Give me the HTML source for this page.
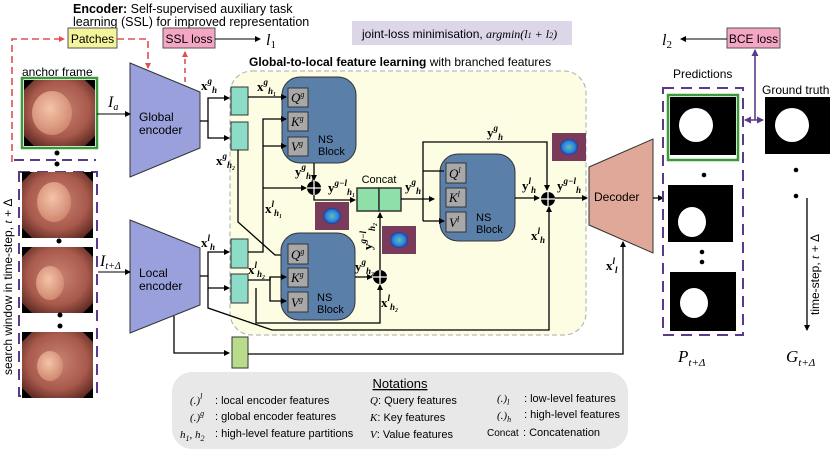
<!DOCTYPE html>
<html><head><meta charset="utf-8"><style>
body{margin:0;background:#fff;}
svg{display:block;font-family:"Liberation Sans",sans-serif;}
.m{font-family:"Liberation Serif",serif;font-style:italic;}
.b{font-family:"Liberation Serif",serif;font-weight:bold;}
</style></head><body>
<svg width="830" height="451" viewBox="0 0 830 451" xmlns="http://www.w3.org/2000/svg">
<defs>
<marker id="a" markerWidth="6" markerHeight="6" refX="5" refY="3" orient="auto" markerUnits="userSpaceOnUse"><path d="M0,0L6,3L0,6z" fill="#000"/></marker>
<marker id="ar" markerWidth="6" markerHeight="6" refX="5" refY="3" orient="auto" markerUnits="userSpaceOnUse"><path d="M0,0L6,3L0,6z" fill="#e05050"/></marker>
<marker id="ap" markerWidth="7" markerHeight="7" refX="6" refY="3.5" orient="auto" markerUnits="userSpaceOnUse"><path d="M0,0L7,3.5L0,7z" fill="#5a3a8a"/></marker>
<marker id="aps" markerWidth="7" markerHeight="7" refX="1" refY="3.5" orient="auto" markerUnits="userSpaceOnUse"><path d="M7,0L0,3.5L7,7z" fill="#5a3a8a"/></marker>
<radialGradient id="endo" cx="50%" cy="45%" r="70%"><stop offset="0" stop-color="#c98474"/><stop offset="0.6" stop-color="#a85a4c"/><stop offset="1" stop-color="#4a1e18"/></radialGradient>
<radialGradient id="pol" cx="45%" cy="40%" r="60%"><stop offset="0" stop-color="#f4c4a8"/><stop offset="1" stop-color="#d08870"/></radialGradient>
<radialGradient id="heat" cx="50%" cy="50%" r="50%"><stop offset="0" stop-color="#60c0b0"/><stop offset="0.7" stop-color="#2a80e0"/><stop offset="1" stop-color="#1a3a9a"/></radialGradient>
<g id="endoimg"><rect width="71" height="66" fill="url(#endo)"/><path d="M0,0h10L0,10zM71,0h-10L71,10zM0,66h10L0,56zM71,66h-10L71,56z" fill="#000"/></g>
<g id="hm"><rect width="34" height="28" fill="#7a3a5a"/><ellipse cx="17" cy="14" rx="9" ry="8" fill="url(#heat)"/></g>
</defs>

<text x="73" y="13" font-size="12.5"><tspan font-weight="bold">Encoder:</tspan> Self-supervised auxiliary task</text>
<text x="73" y="26" font-size="12.5">learning (SSL) for improved representation</text>
<rect x="68" y="28" width="49" height="20" fill="#f4f49a" stroke="#555"/>
<text x="92.5" y="43" font-size="12" text-anchor="middle">Patches</text>
<rect x="163" y="28" width="52" height="20" fill="#f4a6c4" stroke="#555"/>
<text x="189" y="43" font-size="12" text-anchor="middle">SSL loss</text>
<line x1="215" y1="39" x2="260" y2="39" stroke="#000" marker-end="url(#a)"/>
<text x="266" y="45" class="m" font-size="16">l<tspan font-size="11" dy="3" font-style="normal">1</tspan></text>
<rect x="352" y="21" width="220" height="24" fill="#dcd6e8"/>
<text x="362" y="38" font-size="12">joint-loss minimisation, <tspan class="m">argmin</tspan><tspan class="m">(l</tspan><tspan class="m" font-size="8">1</tspan><tspan class="m"> + l</tspan><tspan class="m" font-size="8">2</tspan><tspan class="m">)</tspan></text>

<path d="M12,162V39H64" fill="none" stroke="#e05050" stroke-width="1.6" stroke-dasharray="7,4" marker-end="url(#ar)"/>
<path d="M117,39H148V68" fill="none" stroke="#e05050" stroke-width="1.6" stroke-dasharray="7,4" marker-end="url(#ar)"/>
<path d="M185,82V52" fill="none" stroke="#e05050" stroke-width="1.6" stroke-dasharray="5,4" marker-end="url(#ar)"/>

<text x="22" y="76" font-size="12">anchor frame</text>
<rect x="22" y="78" width="75" height="70" fill="none" stroke="#3a9a3a" stroke-width="2.5"/>
<use href="#endoimg" x="24" y="80"/>
<ellipse cx="52" cy="113" rx="20" ry="22" fill="url(#pol)"/>
<line x1="14" y1="160" x2="96" y2="160" stroke="#5a3a8a" stroke-width="2" stroke-dasharray="10,6"/>
<circle cx="57" cy="153" r="2.5"/><circle cx="57" cy="164" r="2.5"/>
<rect x="19" y="172" width="78" height="224" fill="none" stroke="#5a3a8a" stroke-width="2" stroke-dasharray="11,7"/>
<use href="#endoimg" x="22" y="172"/><ellipse cx="54" cy="202" rx="17" ry="20" fill="url(#pol)"/>
<circle cx="59" cy="241" r="2.5"/>
<use href="#endoimg" x="22" y="247"/><ellipse cx="50" cy="283" rx="14" ry="17" fill="url(#pol)"/>
<circle cx="60" cy="315" r="2.5"/><circle cx="60" cy="326" r="2.5"/>
<use href="#endoimg" x="22" y="332"/><ellipse cx="50" cy="366" rx="13" ry="15" fill="url(#pol)"/>
<text transform="translate(12,375) rotate(-90)" font-size="12">search window in time-step, <tspan class="m">t</tspan> + Δ</text>

<path d="M130,63L200,92V148L130,177z" fill="#9aa0dc" stroke="#333"/>
<text x="139" y="121" font-size="12">Global</text><text x="139" y="134" font-size="12">encoder</text>
<line x1="97" y1="114" x2="130" y2="114" stroke="#000" marker-end="url(#a)"/>
<text x="108" y="107" class="m" font-size="16">I<tspan font-size="10" dy="3">a</tspan></text>
<path d="M130,220L200,248V305L130,333z" fill="#9aa0dc" stroke="#333"/>
<text x="139" y="277" font-size="12">Local</text><text x="139" y="290" font-size="12">encoder</text>
<line x1="98" y1="272" x2="130" y2="272" stroke="#000" marker-end="url(#a)"/>
<text x="100" y="266" class="m" font-size="16">I<tspan font-size="10" dy="3">t+Δ</tspan></text>

<rect x="230" y="71" width="356" height="264" rx="22" fill="#fdfde4" stroke="#aaa" stroke-dasharray="5,3"/>
<text x="249" y="66" font-size="12"><tspan font-weight="bold">Global-to-local feature learning</tspan> with branched features</text>

<text x="201" y="90" class="b" font-size="13">x<tspan font-size="9" dy="-6" class="m">g</tspan><tspan font-size="9" dy="9" class="m">h</tspan></text>
<path d="M200,121H208V98H229" fill="none" stroke="#000" stroke-width="1.3" marker-end="url(#a)"/>
<path d="M208,121V138H229" fill="none" stroke="#000" stroke-width="1.3" marker-end="url(#a)"/>
<rect x="231" y="87" width="17" height="28" fill="#8ddcc8" stroke="#333"/>
<rect x="231" y="122" width="17" height="28" fill="#8ddcc8" stroke="#333"/>
<text x="216" y="165" class="b" font-size="13">x<tspan font-size="9" dy="-6" class="m">g</tspan><tspan font-size="9" dy="9" class="m">h₂</tspan></text>

<text x="201" y="247" class="b" font-size="13">x<tspan font-size="9" dy="-6" class="m">l</tspan><tspan font-size="9" dy="9" class="m">h</tspan></text>
<path d="M200,276H208V252H229" fill="none" stroke="#000" stroke-width="1.3" marker-end="url(#a)"/>
<path d="M208,276V288H229" fill="none" stroke="#000" stroke-width="1.3" marker-end="url(#a)"/>
<path d="M208,288V308L272,330H549V207" fill="none" stroke="#000" stroke-width="1.3" marker-end="url(#a)"/>
<rect x="231" y="239" width="17" height="29" fill="#8ddcc8" stroke="#333"/>
<rect x="231" y="274" width="17" height="29" fill="#8ddcc8" stroke="#333"/>
<path d="M174,316V353H229" fill="none" stroke="#000" stroke-width="1.3" marker-end="url(#a)"/>
<rect x="232" y="337" width="16" height="31" fill="#b8dc8c" stroke="#333"/>
<path d="M248,354H623V242" fill="none" stroke="#000" stroke-width="1.3" marker-end="url(#a)"/>
<text x="606" y="270" class="b" font-size="13">x<tspan font-size="9" dy="-6" class="m">l</tspan><tspan font-size="9" dy="9" class="m">l</tspan></text>

<rect x="282" y="77" width="74" height="86" rx="18" fill="#5a7fa8" stroke="#333"/>
<g fill="#a8a8a8" stroke="#333"><rect x="288" y="88" width="20" height="19"/><rect x="288" y="112" width="20" height="19"/><rect x="288" y="137" width="20" height="19"/></g>
<g class="m" font-size="13"><text x="291" y="102">Q<tspan font-size="8" dy="-5">g</tspan></text><text x="291" y="126">K<tspan font-size="8" dy="-5">g</tspan></text><text x="291" y="151">V<tspan font-size="8" dy="-5">g</tspan></text></g>
<text x="318" y="143" font-size="11">NS</text><text x="318" y="155" font-size="11">Block</text>
<line x1="248" y1="97" x2="286" y2="97" stroke="#000" stroke-width="1.3" marker-end="url(#a)"/>
<text x="257" y="91" class="b" font-size="13">x<tspan font-size="9" dy="-6" class="m">g</tspan><tspan font-size="9" dy="9" class="m">h₁</tspan></text>
<path d="M248,252H263V119H286" fill="none" stroke="#000" stroke-width="1.3" marker-end="url(#a)"/>
<path d="M263,146H286" fill="none" stroke="#000" stroke-width="1.3" marker-end="url(#a)"/>
<path d="M263,188H306" fill="none" stroke="#000" stroke-width="1.3" marker-end="url(#a)"/>
<text x="265" y="213" class="b" font-size="13">x<tspan font-size="9" dy="-6" class="m">l</tspan><tspan font-size="9" dy="9" class="m">h₁</tspan></text>
<line x1="314" y1="163" x2="314" y2="180" stroke="#000" stroke-width="1.3" marker-end="url(#a)"/>
<text x="295" y="176" class="b" font-size="13">y<tspan font-size="9" dy="-6" class="m">g</tspan><tspan font-size="9" dy="9" class="m">h₁</tspan></text>
<circle cx="314" cy="188" r="7" fill="#000"/><path d="M307,188h14M314,181v14" stroke="#fff" stroke-width="1.3"/>
<path d="M314,195V200H355" fill="none" stroke="#000" stroke-width="1.3" marker-end="url(#a)"/>
<text x="328" y="192" class="b" font-size="13">y<tspan font-size="9" dy="-6" class="m">g−l</tspan><tspan font-size="9" dy="9" class="m">h₁</tspan></text>
<use href="#hm" x="315" y="202"/>

<text x="379" y="183" font-size="11" text-anchor="middle">Concat</text>
<rect x="357" y="188" width="22" height="23" fill="#8ee0a8" stroke="#333" stroke-width="1.5"/>
<rect x="379" y="188" width="22" height="23" fill="#8ee0a8" stroke="#333" stroke-width="1.5"/>
<use href="#hm" x="382" y="226"/>

<path d="M238,150V222L275,255H286" fill="none" stroke="#000" stroke-width="1.3" marker-end="url(#a)"/>
<rect x="281" y="233" width="74" height="87" rx="18" fill="#5a7fa8" stroke="#333"/>
<g fill="#a8a8a8" stroke="#333"><rect x="288" y="244" width="20" height="20"/><rect x="288" y="268" width="20" height="19"/><rect x="288" y="292" width="20" height="20"/></g>
<g class="m" font-size="13"><text x="291" y="259">Q<tspan font-size="8" dy="-5">g</tspan></text><text x="291" y="282">K<tspan font-size="8" dy="-5">g</tspan></text><text x="291" y="307">V<tspan font-size="8" dy="-5">g</tspan></text></g>
<text x="317" y="301" font-size="11">NS</text><text x="317" y="313" font-size="11">Block</text>
<path d="M248,280H270V277H286" fill="none" stroke="#000" stroke-width="1.3" marker-end="url(#a)"/>
<path d="M270,277V301H286" fill="none" stroke="#000" stroke-width="1.3" marker-end="url(#a)"/>
<path d="M256,288V323H380V285" fill="none" stroke="#000" stroke-width="1.3" marker-end="url(#a)"/>
<text x="248" y="274" class="b" font-size="13">x<tspan font-size="9" dy="-6" class="m">l</tspan><tspan font-size="9" dy="9" class="m">h₂</tspan></text>
<line x1="355" y1="277" x2="372" y2="277" stroke="#000" stroke-width="1.3" marker-end="url(#a)"/>
<text x="355" y="271" class="b" font-size="13">y<tspan font-size="9" dy="-6" class="m">g</tspan><tspan font-size="9" dy="9" class="m">h₂</tspan></text>
<circle cx="380" cy="277" r="7" fill="#000"/><path d="M373,277h14M380,270v14" stroke="#fff" stroke-width="1.3"/>
<line x1="380" y1="270" x2="380" y2="213" stroke="#000" stroke-width="1.3" marker-end="url(#a)"/>
<text transform="translate(372,250) rotate(-90)" class="b" font-size="13">y<tspan font-size="9" dy="-6" class="m">g−l</tspan><tspan font-size="9" dy="9" class="m">h₂</tspan></text>
<text x="381" y="307" class="b" font-size="13">x<tspan font-size="9" dy="-6" class="m">l</tspan><tspan font-size="9" dy="9" class="m">h₂</tspan></text>

<path d="M401,199H434" fill="none" stroke="#000" stroke-width="1.3" marker-end="url(#a)"/>
<text x="405" y="191" class="b" font-size="13">y<tspan font-size="9" dy="-6" class="m">g</tspan><tspan font-size="9" dy="9" class="m">h</tspan></text>
<path d="M423,221V142H547V190" fill="none" stroke="#000" stroke-width="1.3" marker-end="url(#a)"/>
<text x="487" y="137" class="b" font-size="13">y<tspan font-size="9" dy="-6" class="m">g</tspan><tspan font-size="9" dy="9" class="m">h</tspan></text>
<rect x="440" y="154" width="75" height="87" rx="18" fill="#5a7fa8" stroke="#333"/>
<path d="M423,171H444M423,221H444" fill="none" stroke="#000" stroke-width="1.3" marker-end="url(#a)"/>
<g fill="#a8a8a8" stroke="#333"><rect x="446" y="163" width="20" height="20"/><rect x="446" y="188" width="20" height="19"/><rect x="446" y="212" width="20" height="20"/></g>
<g class="m" font-size="13"><text x="449" y="178">Q<tspan font-size="8" dy="-5">l</tspan></text><text x="449" y="202">K<tspan font-size="8" dy="-5">l</tspan></text><text x="449" y="227">V<tspan font-size="8" dy="-5">l</tspan></text></g>
<text x="476" y="221" font-size="11">NS</text><text x="476" y="233" font-size="11">Block</text>
<line x1="515" y1="198" x2="539" y2="198" stroke="#000" stroke-width="1.3" marker-end="url(#a)"/>
<text x="522" y="190" class="b" font-size="13">y<tspan font-size="9" dy="-6" class="m">l</tspan><tspan font-size="9" dy="9" class="m">h</tspan></text>
<circle cx="548" cy="199" r="7" fill="#000"/><path d="M541,199h14M548,192v14" stroke="#fff" stroke-width="1.3"/>
<text x="531" y="240" class="b" font-size="13">x<tspan font-size="9" dy="-6" class="m">l</tspan><tspan font-size="9" dy="9" class="m">h</tspan></text>
<line x1="555" y1="198" x2="587" y2="198" stroke="#000" stroke-width="1.3" marker-end="url(#a)"/>
<text x="557" y="190" class="b" font-size="13">y<tspan font-size="9" dy="-6" class="m">g−l</tspan><tspan font-size="9" dy="9" class="m">h</tspan></text>
<use href="#hm" x="552" y="133"/>

<path d="M589,167L653,139V253L589,225z" fill="#dfa898" stroke="#333"/>
<text x="594" y="201" font-size="12">Decoder</text>
<line x1="653" y1="198" x2="663" y2="198" stroke="#000" stroke-width="1.3" marker-end="url(#a)"/>

<text x="673" y="78" font-size="12">Predictions</text>
<rect x="663" y="88" width="80" height="247" fill="none" stroke="#5a3a8a" stroke-width="2" stroke-dasharray="11,7"/>
<rect x="668" y="95" width="70" height="65" fill="none" stroke="#3a9a3a" stroke-width="2.5"/>
<rect x="670" y="97" width="66" height="58" fill="#000"/>
<ellipse cx="696" cy="125" rx="17" ry="17" fill="#fff"/>
<rect x="668" y="185" width="65" height="57" fill="#000"/>
<ellipse cx="692" cy="222" rx="14" ry="15" fill="#fff"/>
<circle cx="704" cy="175" r="2.3"/><circle cx="702" cy="252" r="2.3"/><circle cx="702" cy="262" r="2.3"/>
<rect x="670" y="272" width="66" height="59" fill="#000"/>
<ellipse cx="694" cy="303" rx="14" ry="15" fill="#fff"/>
<text x="678" y="362" class="m" font-size="17">P<tspan font-size="11" dy="4">t+Δ</tspan></text>

<text x="762" y="94" font-size="12">Ground truth</text>
<rect x="765" y="97" width="65" height="57" fill="#000"/>
<ellipse cx="792" cy="125" rx="17" ry="17" fill="#fff"/>
<circle cx="796" cy="170" r="2.3"/><circle cx="796" cy="196" r="2.3"/>
<line x1="807" y1="198" x2="807" y2="330" stroke="#000" stroke-width="1.3" marker-end="url(#a)"/>
<text transform="translate(819,315) rotate(-90)" font-size="12">time-step, <tspan class="m">t</tspan> + Δ</text>
<text x="786" y="362" class="m" font-size="17">G<tspan font-size="11" dy="4">t+Δ</tspan></text>

<rect x="727" y="28" width="53" height="20" fill="#f4a6c4" stroke="#555"/>
<text x="753.5" y="43" font-size="12" text-anchor="middle">BCE loss</text>
<line x1="727" y1="39" x2="681" y2="39" stroke="#000" marker-end="url(#a)"/>
<text x="662" y="45" class="m" font-size="16">l<tspan font-size="11" dy="3" font-style="normal">2</tspan></text>
<line x1="755" y1="120" x2="755" y2="50" stroke="#5a3a8a" stroke-width="1.6" marker-end="url(#ap)"/>
<line x1="745" y1="120" x2="763" y2="120" stroke="#5a3a8a" stroke-width="1.6" marker-start="url(#aps)" marker-end="url(#ap)"/>

<rect x="172" y="372" width="456" height="77" rx="20" fill="#e8e8e8"/>
<text x="400" y="388" font-size="13" text-anchor="middle" text-decoration="underline">Notations</text>
<g font-size="11">
<text x="190" y="404" class="m">(.)<tspan font-size="8" dy="-5">l</tspan></text><text x="215" y="404">: local encoder features</text>
<text x="190" y="421" class="m">(.)<tspan font-size="8" dy="-5">g</tspan></text><text x="215" y="420">: global encoder features</text>
<text x="180" y="438" class="m">h<tspan font-size="8" dy="3">1</tspan><tspan dy="-3">, h</tspan><tspan font-size="8" dy="3">2</tspan></text><text x="215" y="437">: high-level feature partitions</text>
<text x="370" y="404"><tspan class="m">Q</tspan>: Query features</text>
<text x="370" y="421"><tspan class="m">K</tspan>: Key features</text>
<text x="370" y="438"><tspan class="m">V</tspan>: Value features</text>
<text x="497" y="402" class="m">(.)<tspan font-size="8" dy="3">l</tspan></text><text x="524" y="402">: low-level features</text>
<text x="497" y="419" class="m">(.)<tspan font-size="8" dy="3">h</tspan></text><text x="524" y="418">: high-level features</text>
<text x="487" y="436" font-size="10">Concat</text><text x="523" y="436">: Concatenation</text>
</g>
</svg>
</body></html>
